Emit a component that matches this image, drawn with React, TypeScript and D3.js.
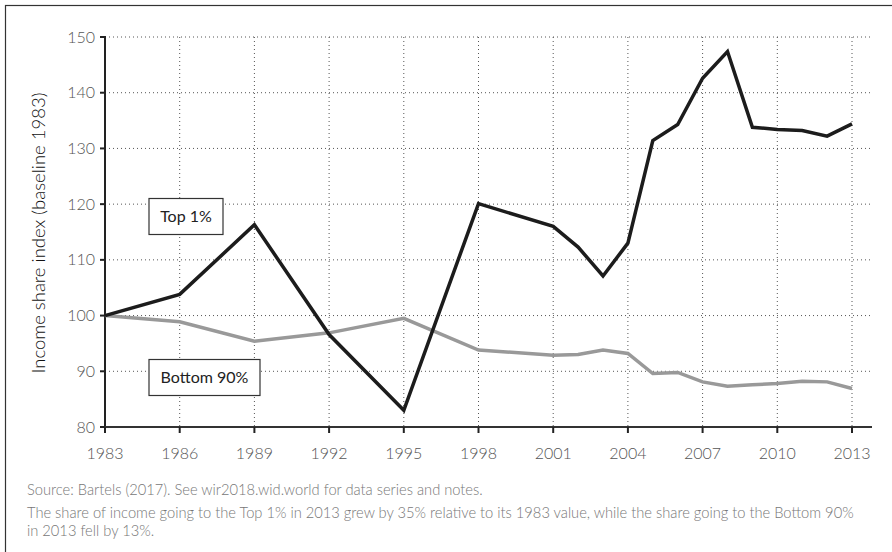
import React from "react";
import * as d3 from "d3";

const years = [1983, 1986, 1989, 1992, 1995, 1998, 2001, 2002, 2003, 2004, 2005, 2006, 2007, 2008, 2009, 2010, 2011, 2012, 2013];
const top1 = [100, 103.8, 116.3, 96.6, 83.0, 120.1, 116.0, 112.3, 107.1, 113.0, 131.4, 134.3, 142.6, 147.4, 133.8, 133.4, 133.2, 132.2, 134.4];
const bottom90 = [100, 98.9, 95.4, 96.9, 99.5, 93.8, 92.9, 93.0, 93.8, 93.2, 89.6, 89.8, 88.1, 87.3, 87.6, 87.8, 88.2, 88.1, 86.9];
const xTicks = [1983, 1986, 1989, 1992, 1995, 1998, 2001, 2004, 2007, 2010, 2013];
const yTicks = [80, 90, 100, 110, 120, 130, 140, 150];
const yLabel = "Income share index (baseline 1983)";
const legendTop = "Top 1%";
const legendBottom = "Bottom 90%";
const sourceText = "Source: Bartels (2017). See wir2018.wid.world for data series and notes.";
const noteLines = [
  "The share of income going to the Top 1% in 2013 grew by 35% relative to its 1983 value, while the share going to the Bottom 90%",
  "in 2013 fell by 13%.",
];

const W = 892, H = 552;
const x0 = 105, x1 = 852, axisEnd = 872;
const yTop = 37, yBot = 427;

export default function App() {
  const x = d3.scaleLinear().domain([1983, 2013]).range([x0, x1]);
  const y = d3.scaleLinear().domain([80, 150]).range([yBot, yTop]);
  const line = d3.line<number>().x((_, i) => x(years[i])).y((d) => y(d));
  const font = "Lato, 'Open Sans', sans-serif";
  return (
    <svg width={W} height={H} style={{ position: "absolute", left: 0, top: 0, fontFamily: font }}>
      <rect x={0} y={0} width={W} height={H} fill="#fff" />
      <rect x={5.5} y={5.5} width={W + 10} height={H + 10} fill="none" stroke="#333" strokeWidth={1.2} />
      {/* grid */}
      {yTicks.filter((t) => t !== 80).map((t) => (
        <line key={"gy" + t} x1={x0} x2={axisEnd} y1={y(t)} y2={y(t)} stroke="#555" strokeWidth={1} strokeDasharray="1,3" />
      ))}
      {xTicks.filter((t) => t !== 1983).map((t) => (
        <line key={"gx" + t} x1={x(t)} x2={x(t)} y1={yTop} y2={yBot} stroke="#555" strokeWidth={1} strokeDasharray="1,3" />
      ))}
      {/* axes */}
      <line x1={x0} x2={x0} y1={yTop - 1} y2={yBot + 5} stroke="#222" strokeWidth={2} />
      <line x1={x0} x2={axisEnd} y1={yBot} y2={yBot} stroke="#333" strokeWidth={2} />
      {yTicks.map((t) => (
        <g key={"yt" + t}>
          <line x1={x0 - 5} x2={x0} y1={y(t)} y2={y(t)} stroke="#222" strokeWidth={2} />
          <text x={x0 - 10} y={y(t)} dy="0.35em" textAnchor="end" fontSize={16} fontWeight={300} fill="#555">{t}</text>
        </g>
      ))}
      {xTicks.map((t) => (
        <g key={"xt" + t}>
          <line x1={x(t)} x2={x(t)} y1={yBot} y2={yBot + 6} stroke="#222" strokeWidth={2} />
          <text x={x(t)} y={yBot + 32} textAnchor="middle" fontSize={16} fontWeight={300} fill="#555">{t}</text>
        </g>
      ))}
      <text transform={`translate(45,${(yTop + yBot) / 2 + 1}) rotate(-90)`} textAnchor="middle" fontSize={18.5} fontWeight={300} fill="#111">{yLabel}</text>
      {/* lines */}
      <path d={line(bottom90) || ""} fill="none" stroke="#999" strokeWidth={3.5} strokeLinejoin="miter" />
      <path d={line(top1) || ""} fill="none" stroke="#1c1c1c" strokeWidth={3.5} strokeLinejoin="miter" />
      {/* legend boxes */}
      <rect x={149} y={198.5} width={74} height={36} fill="#fff" stroke="#333" strokeWidth={1.2} />
      <text x={186} y={216.5} dy="0.35em" textAnchor="middle" fontSize={16} fill="#222">{legendTop}</text>
      <rect x={149} y={359.5} width={111} height={36} fill="#fff" stroke="#333" strokeWidth={1.2} />
      <text x={204.5} y={377.5} dy="0.35em" textAnchor="middle" fontSize={16} fill="#222">{legendBottom}</text>
      {/* notes */}
      <text x={27} y={495} fontSize={14.7} fontWeight={300} fill="#777">{sourceText}</text>
      {noteLines.map((l, i) => (
        <text key={i} x={27} y={518 + i * 18} fontSize={14.7} fontWeight={300} fill="#777">{l}</text>
      ))}
    </svg>
  );
}
